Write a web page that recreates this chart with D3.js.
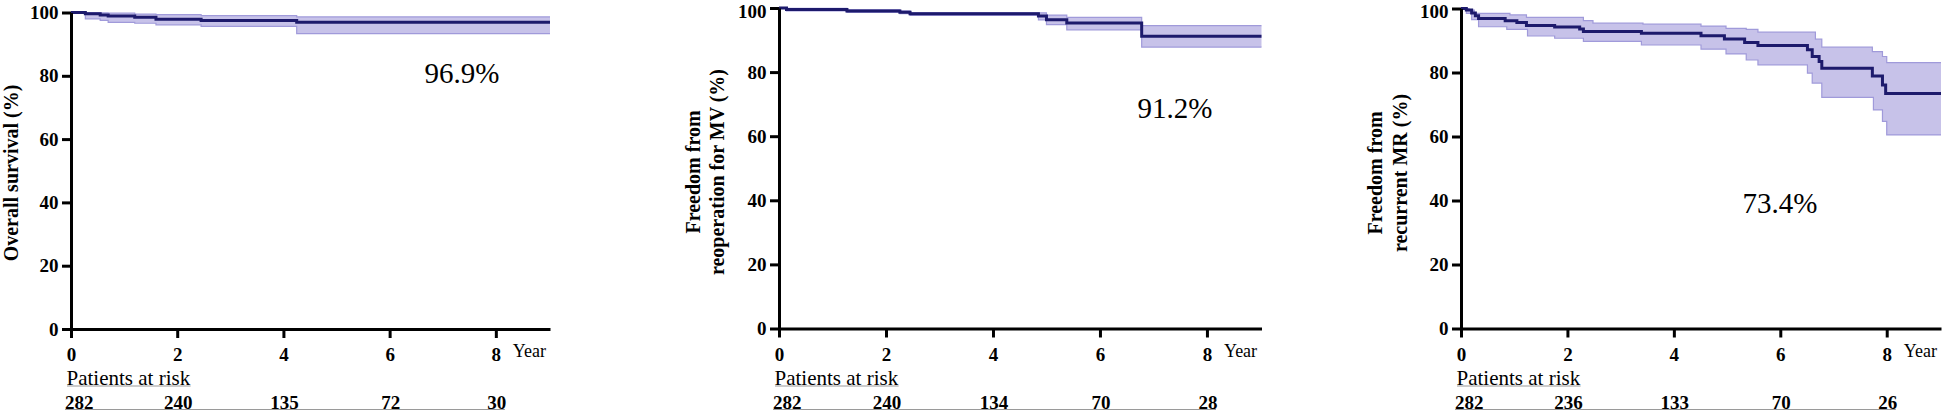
<!DOCTYPE html>
<html><head><meta charset="utf-8">
<script src="https://cdn.jsdelivr.net/npm/d3@7"></script>
<style>html,body{margin:0;padding:0;background:#fff;} svg{display:block;} text{font-family:"Liberation Serif";}</style>
</head><body><svg id="c" width="1946" height="412"></svg>
<script>
// ---------- data ----------
const yearTicks = [0, 2, 4, 6, 8];
const pctTicks = [0, 20, 40, 60, 80, 100];
const riskTimes = [0, 2, 4, 6, 8];
const maxYear = 9.02;

// Panel 1: overall survival
const osTime  = [0, 0.27, 0.55, 0.7, 1.2, 1.6, 2.45, 4.25, 9.02];
const osSurv  = [100, 99.6, 99.2, 98.9, 98.5, 97.9, 97.5, 96.9, 96.9];
const osUpper = [100, 100, 99.9, 99.8, 99.5, 99.3, 99.0, 98.6, 98.6];
const osLower = [100, 98.0, 97.5, 96.9, 96.6, 96.1, 95.6, 93.3, 93.3];
const osRisk  = [282, 240, 135, 72, 30];

// Panel 2: freedom from reoperation for MV
const reopTime  = [0, 0.14, 1.27, 2.26, 2.45, 4.85, 5.0, 5.38, 6.78, 9.02];
const reopSurv  = [100, 99.5, 99.1, 98.7, 98.2, 97.5, 96.3, 95.3, 91.2, 91.2];
const reopUpper = [100, 99.9, 99.5, 99.1, 98.6, 98.5, 97.8, 97.1, 94.5, 94.5];
const reopLower = [100, 99.1, 98.6, 98.2, 97.7, 96.3, 94.8, 93.2, 87.8, 87.8];
const reopRisk  = [282, 240, 134, 70, 28];

// Panel 3: freedom from recurrent MR
const mrTime = [0, 0.1, 0.2, 0.27, 0.33, 0.83, 1.05, 1.23, 1.76, 2.23, 2.3, 3.39, 4.51, 4.95, 5.33, 5.58, 6.51, 6.6, 6.73, 6.78, 7.73, 7.92, 7.98, 9.02];
const mrSurv = [100, 99.5, 98.6, 97.7, 96.9, 96.2, 95.6, 94.7, 94.2, 93.6, 92.8, 92.3, 91.5, 90.5, 89.4, 88.4, 87.1, 85.0, 83.4, 81.3, 78.9, 76.1, 73.4, 73.4];
const mrUpperTime = [0, 0.15, 0.25, 0.92, 1.23, 2.3, 2.48, 3.42, 4.51, 4.98, 5.36, 5.58, 6.66, 6.78, 7.73, 7.92, 8.0, 9.02];
const mrUpper     = [100, 99.5, 98.5, 98.0, 97.2, 96.2, 95.4, 95.1, 94.5, 93.8, 93.5, 92.6, 90.4, 87.9, 86.5, 85.0, 83.1, 83.1];
const mrLowerTime = [0, 0.1, 0.2, 0.33, 0.86, 1.25, 1.76, 2.3, 3.39, 4.51, 4.98, 5.36, 5.58, 6.51, 6.6, 6.78, 7.75, 7.92, 8.0, 9.02];
const mrLower     = [100, 98.5, 96.5, 94.3, 93.5, 91.4, 90.7, 89.7, 88.6, 87.3, 85.8, 83.9, 82.4, 79.8, 76.7, 72.2, 68.3, 64.7, 60.5, 60.5];
const mrRisk = [282, 236, 133, 70, 26];

const titles = [["Overall survival (%)"], ["Freedom from", "reoperation for MV (%)"], ["Freedom from", "recurrent MR (%)"]];
const finalLabels = ["96.9%", "91.2%", "73.4%"];

// ---------- layout ----------
const panels = [
  {x0: 71, x1: 550, yTop: 12.5, yBot: 329, titleX: [11], titleY: 173, annX: 462, annY: 83,
   time: osTime, surv: osSurv, upT: osTime, up: osUpper, loT: osTime, lo: osLower, risk: osRisk},
  {x0: 779, x1: 1261.5, yTop: 8, yBot: 328.5, titleX: [693, 717], titleY: 172, annX: 1175, annY: 118,
   time: reopTime, surv: reopSurv, upT: reopTime, up: reopUpper, loT: reopTime, lo: reopLower, risk: reopRisk},
  {x0: 1461, x1: 1941, yTop: 8.5, yBot: 328.5, titleX: [1375, 1400], titleY: 173, annX: 1780, annY: 213,
   time: mrTime, surv: mrSurv, upT: mrUpperTime, up: mrUpper, loT: mrLowerTime, lo: mrLower, risk: mrRisk}
];

const navy = "#1d1a6c";
const bandFill = "#c7c2e9";
const bandEdge = "#a09ada";
const serif = '"Liberation Serif"';

const svg = d3.select("#c");

function stepLookup(ts, vs, t) {
  let v = vs[0];
  for (let i = 0; i < ts.length; i++) { if (ts[i] <= t + 1e-9) v = vs[i]; }
  return v;
}

function styleText(sel, size, bold) {
  sel.style("font-family", serif).style("font-size", size + "px")
     .style("font-weight", bold ? "bold" : "normal").attr("fill", "#000");
  return sel;
}

panels.forEach((p, pi) => {
  const x = d3.scaleLinear().domain([0, maxYear]).range([p.x0, p.x1]);
  const y = d3.scaleLinear().domain([0, 100]).range([p.yBot, p.yTop]);
  const g = svg.append("g");

  // band
  const allT = Array.from(new Set([...p.upT, ...p.loT])).sort((a, b) => a - b);
  const band = allT.map(t => ({t, lo: stepLookup(p.loT, p.lo, t), up: stepLookup(p.upT, p.up, t)}));
  g.append("path").datum(band)
    .attr("d", d3.area().curve(d3.curveStepAfter).x(d => x(d.t)).y0(d => y(d.lo)).y1(d => y(d.up)))
    .attr("fill", bandFill);
  const edge = d3.line().curve(d3.curveStepAfter).x(d => x(d[0])).y(d => y(d[1]));
  g.append("path").datum(p.upT.map((t, i) => [t, p.up[i]])).attr("d", edge)
    .attr("fill", "none").attr("stroke", bandEdge).attr("stroke-width", 1.2);
  g.append("path").datum(p.loT.map((t, i) => [t, p.lo[i]])).attr("d", edge)
    .attr("fill", "none").attr("stroke", bandEdge).attr("stroke-width", 1.2);

  // KM curve
  g.append("path").datum(p.time.map((t, i) => [t, p.surv[i]])).attr("d", edge)
    .attr("fill", "none").attr("stroke", navy).attr("stroke-width", 3);

  // axes
  const ya = g.append("g").attr("transform", `translate(${p.x0},0)`)
    .call(d3.axisLeft(y).tickValues(pctTicks).tickSize(9).tickPadding(3.5).tickSizeOuter(0));
  const xa = g.append("g").attr("transform", `translate(0,${p.yBot})`)
    .call(d3.axisBottom(x).tickValues(yearTicks).tickSize(9).tickPadding(10).tickSizeOuter(0));
  [ya, xa].forEach(a => {
    a.attr("font-family", null);
    a.select(".domain").attr("stroke", "#000").attr("stroke-width", 3);
    a.selectAll(".tick line").attr("stroke", "#000").attr("stroke-width", 3);
    styleText(a.selectAll(".tick text"), 19, true);
  });
  // keep the top label inside the picture
  ya.selectAll(".tick text").filter(d => d === 100).attr("y", Math.max(0, 11.5 - p.yTop));

  // Year label
  styleText(g.append("text").attr("x", x(8) + 17).attr("y", p.yBot + 28).text("Year"), 18, false);

  // y title
  titles[pi].forEach((line, li) => {
    styleText(g.append("text")
      .attr("transform", `translate(${p.titleX[li]},${p.titleY}) rotate(-90)`)
      .attr("text-anchor", "middle").attr("dominant-baseline", "central")
      .text(line), 20, true);
  });

  // final percentage
  styleText(g.append("text").attr("x", p.annX).attr("y", p.annY).attr("text-anchor", "middle")
    .text(finalLabels[pi]), 29, false);

  // risk table
  const pr = styleText(g.append("text").attr("x", p.x0 - 4.5).attr("y", 385).text("Patients at risk"), 21, false);
  const w = pr.node().getComputedTextLength();
  g.append("line").attr("x1", p.x0 - 4).attr("x2", p.x0 - 4 + w).attr("y1", 386).attr("y2", 386)
    .attr("stroke", "#9a9a9a").attr("stroke-width", 1);
  g.append("line").attr("x1", p.x0 - 6).attr("x2", x(8) + 9).attr("y1", 409.5).attr("y2", 409.5)
    .attr("stroke", "#9a9a9a").attr("stroke-width", 1);
  styleText(g.selectAll(".risk").data(p.risk).enter().append("text")
    .attr("x", (d, i) => i === 0 ? p.x0 - 6 : x(riskTimes[i]) + 1)
    .attr("y", 409)
    .attr("text-anchor", (d, i) => i === 0 ? "start" : "middle")
    .text(d => d), 19, true);
});
</script></body></html>
